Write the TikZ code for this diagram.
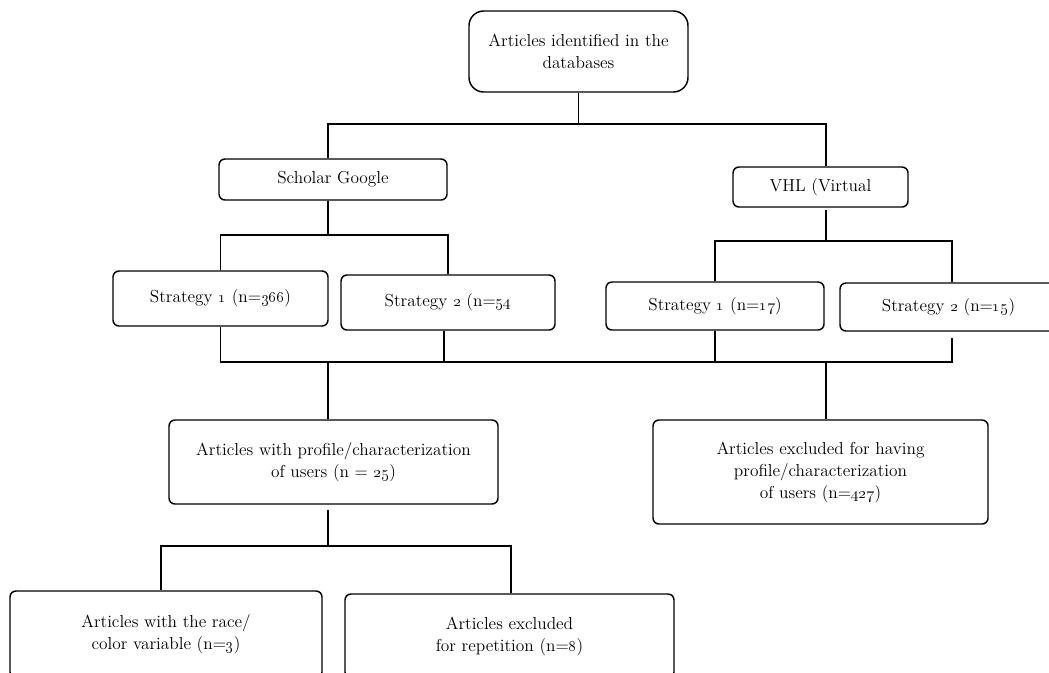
\documentclass[tikz,border=0pt]{standalone}
\usepackage{tikz}

\begin{document}
\begin{tikzpicture}[x=0.75pt, y=-0.75pt,
        box/.style={draw=black, line width=1.1pt, rounded corners=4.5pt, align=center, inner sep=0pt, font=\fontsize{13}{16.5}\selectfont},
        link/.style={line width=0.9pt}]
            \path[use as bounding box] (0,0) rectangle (1049,672);
            \clip (0,0) rectangle (1049,672);
            \node[box, rounded corners=11pt, minimum width=164.25pt, minimum height=60.75pt] (top) at (578.5,51.5) {Articles identified in the\\databases};
            \node[box, minimum width=171pt, minimum height=30.75pt] (sg) at (333,179.5) {Scholar Google};
            \node[box, minimum width=131.25pt, minimum height=30pt] (vhl) at (820.5,187) {VHL (Virtual};
            \node[box, minimum width=161.25pt, minimum height=41.25pt] (s1a) at (220.5,298.5) {Strategy \oldstylenums{1} (n=\oldstylenums{366})};
            \node[box, minimum width=160.5pt, minimum height=41.25pt] (s2a) at (448,302.5) {Strategy \oldstylenums{2} (n=\oldstylenums{54}};
            \node[box, minimum width=163.5pt, minimum height=36pt] (s1b) at (715,306) {Strategy \oldstylenums{1} (n=\oldstylenums{17})};
            \node[box, minimum width=162.75pt, minimum height=36pt] (s2b) at (948.5,307) {Strategy \oldstylenums{2} (n=\oldstylenums{15})};
            \node[box, minimum width=246.75pt, minimum height=63pt] (prof) at (333.5,462) {Articles with profile/characterization\\of users (n = \oldstylenums{25})};
            \node[box, minimum width=251.25pt, minimum height=78pt] (excl) at (820.5,472) {Articles excluded for having\\profile/characterization\\of users (n=\oldstylenums{427})};
            \node[box, minimum width=234pt, minimum height=65.25pt] (bl) at (166,634.5) {Articles with the race/\\color variable (n=\oldstylenums{3})};
            \node[box, minimum width=246.75pt, minimum height=63pt] (br) at (509.5,636) {Articles excluded\\for repetition (n=\oldstylenums{8})};
            \coordinate (bus1) at (0,124);
            \coordinate (bus2) at (0,235);
            \coordinate (bus3) at (0,241);
            \coordinate (bus4) at (0,362);
            \coordinate (bus5) at (0,546);
            \draw[link] (top.south) -- (top.south |- bus1);
            \draw[link] ([xshift=-3.75pt]sg.north) |- ([xshift=4.1pt]vhl.north |- bus1) -- ([xshift=4.1pt]vhl.north);
            \draw[link] ([xshift=-3.75pt]sg.south) -- ([xshift=-3.75pt]sg.south |- bus2);
            \draw[link] (s1a.north) |- (s2a.north |- bus2) -- (s2a.north);
            \draw[link] ([xshift=4.1pt,yshift=-2pt]vhl.south) -- ([xshift=4.1pt]vhl.south |- bus3);
            \draw[link] (s1b.north) |- ([xshift=2.6pt]s2b.north |- bus3) -- ([xshift=2.6pt]s2b.north);
            \draw[link] (s1a.south) |- ([xshift=2.6pt]s2b.south |- bus4) -- ([xshift=2.6pt,yshift=-4.5pt]s2b.south);
            \draw[link] ([xshift=-3pt]s2a.south) -- ([xshift=-3pt]s2a.south |- bus4);
            \draw[link] (s1b.south) -- (s1b.south |- bus4);
            \draw[link] ([xshift=-4.1pt]prof.north |- bus4) -- ([xshift=-4.1pt]prof.north);
            \draw[link] ([xshift=4.1pt]excl.north |- bus4) -- ([xshift=4.1pt]excl.north);
            \draw[link] ([xshift=-4.1pt,yshift=-3.75pt]prof.south) -- ([xshift=-4.1pt]prof.south |- bus5);
            \draw[link] ([xshift=-3.75pt]bl.north) |- ([xshift=1.1pt]br.north |- bus5) -- ([xshift=1.1pt]br.north);
        \end{tikzpicture}
\end{document}
